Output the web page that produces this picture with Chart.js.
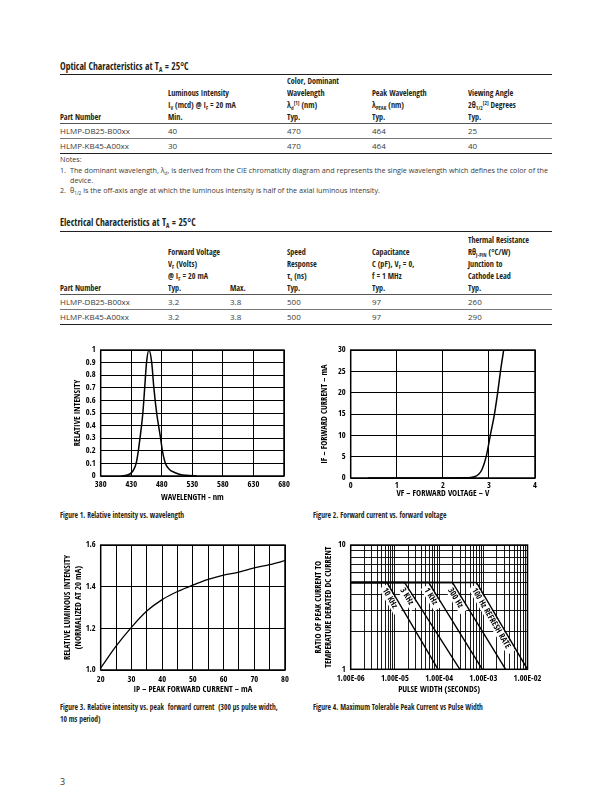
<!DOCTYPE html>
<html>
<head>
<meta charset="utf-8">
<script src="https://cdn.jsdelivr.net/npm/chart.js@4.4.0/dist/chart.umd.min.js"></script>
<style>
html, body { margin: 0; padding: 0; background: #fff; }
#page { position: relative; width: 612px; height: 792px; overflow: hidden; color: #231f20;
  font-family: 'Open Sans', 'Liberation Sans', sans-serif;
  --fs-heading: 9.5px; --fs-th: 8.5px; --fs-td: 8px; --fs-note: 7px; --fs-caption: 8px; --sx: 0.88; }
.cond { font-family: 'Open Sans Condensed', 'Roboto Condensed', sans-serif; font-weight: bold; }
.sx { display: inline-block; transform: scaleX(var(--sx)); transform-origin: 0 50%; white-space: nowrap; }
.abs { position: absolute; white-space: nowrap; }
.heading { left: 60px; font-size: var(--fs-heading); line-height: 12px; }
table { position: absolute; left: 60px; width: 492px; border-collapse: collapse; table-layout: fixed; }
th { text-align: left; vertical-align: bottom; padding: 0; font-size: var(--fs-th); line-height: 12px; white-space: nowrap;
  font-family: 'Open Sans Condensed', 'Roboto Condensed', sans-serif; font-weight: bold;
  border-top: 1.5px solid #231f20; border-bottom: 0.8px solid #555; }
td { padding: 0; font-size: var(--fs-td); height: 14px; line-height: 14px; color: #3a3a3a; border-bottom: 0.8px solid #777; white-space: nowrap; }
tr:last-child td { border-bottom: 1.5px solid #231f20; }
sub, sup { font-size: 65%; line-height: 0; }
sub { vertical-align: -2px; }
sup { vertical-align: 3px; }
.note { left: 60px; font-size: var(--fs-note); line-height: 10px; color: #3a3a3a; }
.note b { display: inline-block; width: 10px; font-weight: normal; }
.caption { font-size: var(--fs-caption); line-height: 11.5px; }
canvas { position: absolute; }
</style>
</head>
<body>
<div id="page">
  <div class="abs cond heading" style="top:60px"><span class="sx">Optical Characteristics at T<sub>A</sub> = 25°C</span></div>
  <table style="top:74px">
    <colgroup><col style="width:108px"><col style="width:119px"><col style="width:85px"><col style="width:96px"><col style="width:84px"></colgroup>
    <tr style="height:48px">
      <th><div class="sx">Part Number</div></th>
      <th><div class="sx">Luminous Intensity<br>I<sub>V</sub> (mcd) @ I<sub>F</sub> = 20 mA<br>Min.</div></th>
      <th><div class="sx">Color, Dominant<br>Wavelength<br>λ<sub>d</sub><sup>[1]</sup> (nm)<br>Typ.</div></th>
      <th><div class="sx">Peak Wavelength<br>λ<sub>PEAK</sub> (nm)<br>Typ.</div></th>
      <th><div class="sx">Viewing Angle<br>2θ<sub>1/2</sub><sup>[2]</sup> Degrees<br>Typ.</div></th>
    </tr>
    <tr><td>HLMP-DB25-B00xx</td><td>40</td><td>470</td><td>464</td><td>25</td></tr>
    <tr><td>HLMP-KB45-A00xx</td><td>30</td><td>470</td><td>464</td><td>40</td></tr>
  </table>
  <div class="abs note" style="top:154px">Notes:</div>
  <div class="abs note" style="top:165px"><b>1.</b>The dominant wavelength, λ<sub>d</sub>, is derived from the CIE chromaticity diagram and represents the single wavelength which defines the color of the</div>
  <div class="abs note" style="top:175px"><b></b>device.</div>
  <div class="abs note" style="top:185px"><b>2.</b>θ<sub>1/2</sub> is the off-axis angle at which the luminous intensity is half of the axial luminous intensity.</div>

  <div class="abs cond heading" style="top:216px"><span class="sx">Electrical Characteristics at T<sub>A</sub> = 25°C</span></div>
  <table style="top:231px">
    <colgroup><col style="width:108px"><col style="width:62px"><col style="width:57px"><col style="width:85px"><col style="width:96px"><col style="width:84px"></colgroup>
    <tr style="height:63px">
      <th><div class="sx">Part Number</div></th>
      <th><div class="sx">Forward Voltage<br>V<sub>F</sub> (Volts)<br>@ I<sub>F</sub> = 20 mA<br>Typ.</div></th>
      <th><div class="sx">Max.</div></th>
      <th><div class="sx">Speed<br>Response<br>τ<sub>s</sub> (ns)<br>Typ.</div></th>
      <th><div class="sx">Capacitance<br>C (pF), V<sub>F</sub> = 0,<br>f = 1 MHz<br>Typ.</div></th>
      <th><div class="sx">Thermal Resistance<br>Rθ<sub>J-PIN</sub> (°C/W)<br>Junction to<br>Cathode Lead<br>Typ.</div></th>
    </tr>
    <tr><td>HLMP-DB25-B00xx</td><td>3.2</td><td>3.8</td><td>500</td><td>97</td><td>260</td></tr>
    <tr><td>HLMP-KB45-A00xx</td><td>3.2</td><td>3.8</td><td>500</td><td>97</td><td>290</td></tr>
  </table>

  <canvas id="fig1" width="236" height="168" style="left:60px;top:340px"></canvas>
  <canvas id="fig2" width="236" height="168" style="left:310px;top:340px"></canvas>
  <canvas id="fig3" width="236" height="165" style="left:60px;top:535px"></canvas>
  <canvas id="fig4" width="236" height="165" style="left:310px;top:535px"></canvas>

  <div class="abs cond caption" style="left:60px;top:509px"><span class="sx">Figure 1. Relative intensity vs. wavelength</span></div>
  <div class="abs cond caption" style="left:313px;top:509px"><span class="sx">Figure 2. Forward current vs. forward voltage</span></div>
  <div class="abs cond caption" style="left:60px;top:701px"><span class="sx">Figure 3. Relative intensity vs. peak&nbsp; forward current&nbsp; (300 µs pulse width,<br>10 ms period)</span></div>
  <div class="abs cond caption" style="left:313px;top:701px"><span class="sx">Figure 4. Maximum Tolerable Peak Current vs Pulse Width</span></div>
  <div class="abs" style="left:60px;top:776px;font-size:9px;line-height:12px;color:#333">3</div>
</div>

<script>
// Figure 1: relative intensity vs wavelength
const fig1Wavelength = [414, 425, 430, 434, 438, 441.6, 444.3, 449, 452, 455, 459, 463.5, 467, 471.6, 478, 481, 486, 493, 500, 510, 520, 537];
const fig1Intensity = [0, 0.01, 0.025, 0.05, 0.1, 0.2, 0.3, 0.5, 0.7, 0.9, 1.0, 0.9, 0.7, 0.5, 0.3, 0.2, 0.1, 0.05, 0.03, 0.012, 0.005, 0];
const fig1XTicks = [380, 430, 480, 530, 580, 630, 680];
const fig1YTicks = [0, 0.1, 0.2, 0.3, 0.4, 0.5, 0.6, 0.7, 0.8, 0.9, 1];

// Figure 2: forward current vs forward voltage
const fig2Voltage = [0.37, 1.0, 2.0, 2.5, 2.6, 2.7, 2.77, 2.85, 2.94, 3.03, 3.12, 3.19, 3.25, 3.32];
const fig2Current = [0, 0, 0, 0.03, 0.1, 0.35, 0.8, 2, 5, 10, 15, 20, 25, 30];
const fig2XTicks = [0, 1, 2, 3, 4];
const fig2YTicks = [0, 5, 10, 15, 20, 25, 30];

// Figure 3: relative intensity vs peak forward current
const fig3Current = [20, 25, 30, 35, 40, 45, 50, 55, 60, 65, 70, 75, 80];
const fig3Intensity = [1.01, 1.115, 1.205, 1.283, 1.338, 1.377, 1.408, 1.435, 1.456, 1.47, 1.49, 1.506, 1.525];
const fig3XTicks = [20, 25, 30, 35, 40, 45, 50, 55, 60, 65, 70, 75, 80];
const fig3YTicks = [1.0, 1.2, 1.4, 1.6];

// Figure 4: max tolerable peak current vs pulse width
const fig4Labels = ['10 KHz', '3 KHz', '1 KHz', '300 Hz', '100 Hz REFRESH RATE'];
const fig4KneeWidth = [6.6e-6, 1.65e-5, 5.8e-5, 2.0e-4, 7.0e-4];
const fig4EndWidth = [9.5e-5, 2.95e-4, 9.5e-4, 3.2e-3, 1.0e-2];
const fig4FlatRatio = 5;
const fig4EndRatio = 1;
const fig4MinWidth = 1e-6;
const fig4XDecades = [1e-6, 1e-5, 1e-4, 1e-3, 1e-2];
const fig4XTickLabels = ['1.00E-06', '1.00E-05', '1.00E-04', '1.00E-03', '1.00E-02'];
const fig4YTicks = [1, 2, 3, 4, 5, 6, 7, 8, 9, 10];
const fig4YTickLabels = ['1', '', '', '', '', '', '', '', '', '10'];

const COND = "'Open Sans Condensed', 'Roboto Condensed', sans-serif";
const BODY = "'Open Sans', 'Liberation Sans', sans-serif";
const SX = 0.88;

// size the fonts so sample strings come out as wide as in the datasheet
const measureCtx = document.createElement('canvas').getContext('2d');
function fitSize(text, weight, family, target) {
	measureCtx.font = weight + ' 100px ' + family;
	return (100 * target) / measureCtx.measureText(text).width;
}

const page = document.getElementById('page');
page.style.setProperty('--sx', SX);
page.style.setProperty('--fs-heading', fitSize('Optical Characteristics at TA = 25°C', 'bold', COND, 130) / SX + 'px');
page.style.setProperty('--fs-th', fitSize('Luminous Intensity', 'bold', COND, 61) / SX + 'px');
page.style.setProperty('--fs-td', fitSize('HLMP-DB25-B00xx', 'normal', BODY, 70) + 'px');
page.style.setProperty('--fs-note', fitSize('The dominant wavelength, λd, is derived from the CIE chromaticity diagram and represents the single wavelength which defines the color of the', 'normal', BODY, 480) + 'px');
page.style.setProperty('--fs-caption', fitSize('Figure 4. Maximum Tolerable Peak Current vs Pulse Width', 'bold', COND, 170) / SX + 'px');

const TICK_SIZE = fitSize('1.00E-06', 'bold', COND, 28);
const TITLE_SIZE = fitSize('IP – PEAK FORWARD CURRENT – mA', 'bold', COND, 119);

Chart.defaults.font.family = COND;
Chart.defaults.font.weight = 'bold';
Chart.defaults.font.size = TICK_SIZE;
Chart.defaults.color = '#000';
Chart.defaults.animation = false;
Chart.defaults.plugins.legend.display = false;
Chart.defaults.plugins.tooltip.enabled = false;

const framePlugin = {
	id: 'frame',
	afterDraw(chart) {
		const { ctx, chartArea: a } = chart;
		ctx.save();
		ctx.strokeStyle = '#000';
		ctx.lineWidth = 1.5;
		ctx.strokeRect(a.left, a.top, a.right - a.left, a.bottom - a.top);
		ctx.restore();
	},
};

function pairs(xs, ys) {
	return xs.map((x, i) => ({ x: x, y: ys[i] }));
}

function fixedTicks(values) {
	return scale => {
		scale.ticks = values.map(v => ({ value: v }));
	};
}

function grid(width) {
	return { color: '#000', lineWidth: width, drawTicks: false };
}

// offset = distance from the canvas edge to the centre of the (first) title line
function axisTitle(text, offset, side, lineHeight) {
	const lh = lineHeight || 1.2;
	const pad = offset - (TITLE_SIZE * lh) / 2;
	return {
		display: true,
		text: text,
		font: { size: TITLE_SIZE, lineHeight: lh },
		padding: side === 'x' ? { top: 0, bottom: pad } : { top: pad, bottom: 0 },
	};
}

function makeChart(id, datasets, xScale, yScale, padding, plugins) {
	return new Chart(document.getElementById(id), {
		type: 'scatter',
		data: { datasets: datasets },
		options: {
			responsive: false,
			layout: { padding: padding },
			scales: { x: xScale, y: yScale },
		},
		plugins: [framePlugin].concat(plugins || []),
	});
}

function curve(data, width) {
	return {
		data: data,
		showLine: true,
		borderColor: '#000',
		borderWidth: width,
		pointRadius: 0,
		cubicInterpolationMode: 'monotone',
	};
}

// Figure 1
makeChart(
	'fig1',
	[curve(pairs(fig1Wavelength, fig1Intensity), 1.5)],
	{
		type: 'linear', min: 380, max: 680,
		afterBuildTicks: fixedTicks(fig1XTicks),
		afterFit: s => { s.height = 32; },
		grid: grid(1), border: { display: false },
		ticks: { padding: 3.5, maxRotation: 0, autoSkip: false, callback: v => String(v) },
		title: axisTitle('WAVELENGTH - nm', 10, 'x'),
	},
	{
		type: 'linear', min: 0, max: 1,
		afterBuildTicks: fixedTicks(fig1YTicks),
		afterFit: s => { s.width = 40.7; },
		grid: grid(1), border: { display: false },
		ticks: { padding: 5, autoSkip: false, callback: v => String(v) },
		title: axisTitle('RELATIVE INTENSITY', 18, 'y'),
	},
	{ top: 7.7, right: 12, left: 0, bottom: 0 }
);

// Figure 2
makeChart(
	'fig2',
	[curve(pairs(fig2Voltage, fig2Current), 1.5)],
	{
		type: 'linear', min: 0, max: 4,
		afterBuildTicks: fixedTicks(fig2XTicks),
		afterFit: s => { s.height = 30; },
		grid: grid(1), border: { display: false },
		ticks: { padding: 3, maxRotation: 0, autoSkip: false, callback: v => String(v) },
		title: axisTitle('VF – FORWARD VOLTAGE – V', 14, 'x'),
	},
	{
		type: 'linear', min: 0, max: 30,
		afterBuildTicks: fixedTicks(fig2YTicks),
		afterFit: s => { s.width = 40.7; },
		grid: grid(1), border: { display: false },
		ticks: { padding: 5, autoSkip: false, callback: v => String(v) },
		title: axisTitle('IF – FORWARD CURRENT – mA', 15, 'y'),
	},
	{ top: 7.7, right: 11, left: 0, bottom: 0 }
);

// Figure 3
makeChart(
	'fig3',
	[curve(pairs(fig3Current, fig3Intensity), 1.3)],
	{
		type: 'linear', min: 20, max: 80,
		afterBuildTicks: fixedTicks(fig3XTicks),
		afterFit: s => { s.height = 30; },
		grid: grid(1), border: { display: false },
		ticks: { padding: 4.5, maxRotation: 0, autoSkip: false, callback: v => (v % 10 === 0 ? String(v) : '') },
		title: axisTitle('IP – PEAK FORWARD CURRENT – mA', 10, 'x'),
	},
	{
		type: 'linear', min: 1, max: 1.6,
		afterBuildTicks: fixedTicks(fig3YTicks),
		afterFit: s => { s.width = 40.7; },
		grid: grid(1), border: { display: false },
		ticks: { padding: 5, autoSkip: false, callback: v => v.toFixed(1) },
		title: axisTitle(['RELATIVE LUMINOUS INTENSITY', '(NORMALIZED AT 20 mA)'], 7.7, 'y', 10.6 / TITLE_SIZE),
	},
	{ top: 7.7, right: 11, left: 0, bottom: 0 }
);

// Figure 4
const fig4Datasets = fig4Labels.map((label, i) => ({
	label: label,
	data: [
		{ x: fig4MinWidth, y: fig4FlatRatio },
		{ x: fig4KneeWidth[i], y: fig4FlatRatio },
		{ x: fig4EndWidth[i], y: fig4EndRatio },
	],
	showLine: true,
	borderColor: '#000',
	borderWidth: 1.4,
	pointRadius: 0,
}));

// labels written along the sloped part of each curve, on a white strip
const slopeLabels = {
	id: 'slopeLabels',
	beforeDatasetsDraw(chart) {
		const { ctx, scales } = chart;
		ctx.save();
		ctx.font = 'bold ' + TICK_SIZE + 'px ' + COND;
		chart.data.datasets.forEach(ds => {
			const a = ds.data[1];
			const b = ds.data[2];
			const x1 = scales.x.getPixelForValue(a.x);
			const y1 = scales.y.getPixelForValue(a.y);
			const x2 = scales.x.getPixelForValue(b.x);
			const y2 = scales.y.getPixelForValue(b.y);
			const angle = Math.atan2(y2 - y1, x2 - x1);
			const w = ctx.measureText(ds.label).width;
			ctx.save();
			ctx.translate(x1, y1);
			ctx.rotate(angle);
			ctx.fillStyle = '#fff';
			ctx.fillRect(1.5, 0.8, w + 8, 9.5);
			ctx.fillStyle = '#000';
			ctx.textBaseline = 'top';
			ctx.fillText(ds.label, 4, 1.5);
			ctx.restore();
		});
		ctx.restore();
	},
};

function fig4XGrid(scale) {
	const ticks = [];
	fig4XDecades.forEach((d, i) => {
		if (i === fig4XDecades.length - 1) {
			ticks.push({ value: d });
			return;
		}
		fig4YTicks.slice(0, 9).forEach(m => ticks.push({ value: m * d }));
	});
	scale.ticks = ticks;
}

makeChart(
	'fig4',
	fig4Datasets,
	{
		type: 'logarithmic', min: 1e-6, max: 1e-2,
		afterBuildTicks: fig4XGrid,
		afterFit: s => { s.height = 30.7; },
		grid: grid(0.9), border: { display: false },
		ticks: {
			padding: 4.5, maxRotation: 0, autoSkip: false,
			callback: v => {
				const i = fig4XDecades.findIndex(d => Math.abs(v / d - 1) < 1e-6);
				return i >= 0 ? fig4XTickLabels[i] : '';
			},
		},
		title: axisTitle('PULSE WIDTH (SECONDS)', 10, 'x'),
	},
	{
		type: 'logarithmic', min: 1, max: 10,
		afterBuildTicks: fixedTicks(fig4YTicks),
		afterFit: s => { s.width = 40.7; },
		grid: grid(0.9), border: { display: false },
		ticks: {
			padding: 5, autoSkip: false,
			callback: v => {
				const i = fig4YTicks.indexOf(v);
				return i >= 0 ? fig4YTickLabels[i] : '';
			},
		},
		title: axisTitle(['RATIO OF PEAK CURRENT TO', 'TEMPERATURE DERATED DC CURRENT'], 8.3, 'y', 10 / TITLE_SIZE),
	},
	{ top: 7.7, right: 11, left: 0, bottom: 0 },
	[slopeLabels]
);
</script>
</body>
</html>
